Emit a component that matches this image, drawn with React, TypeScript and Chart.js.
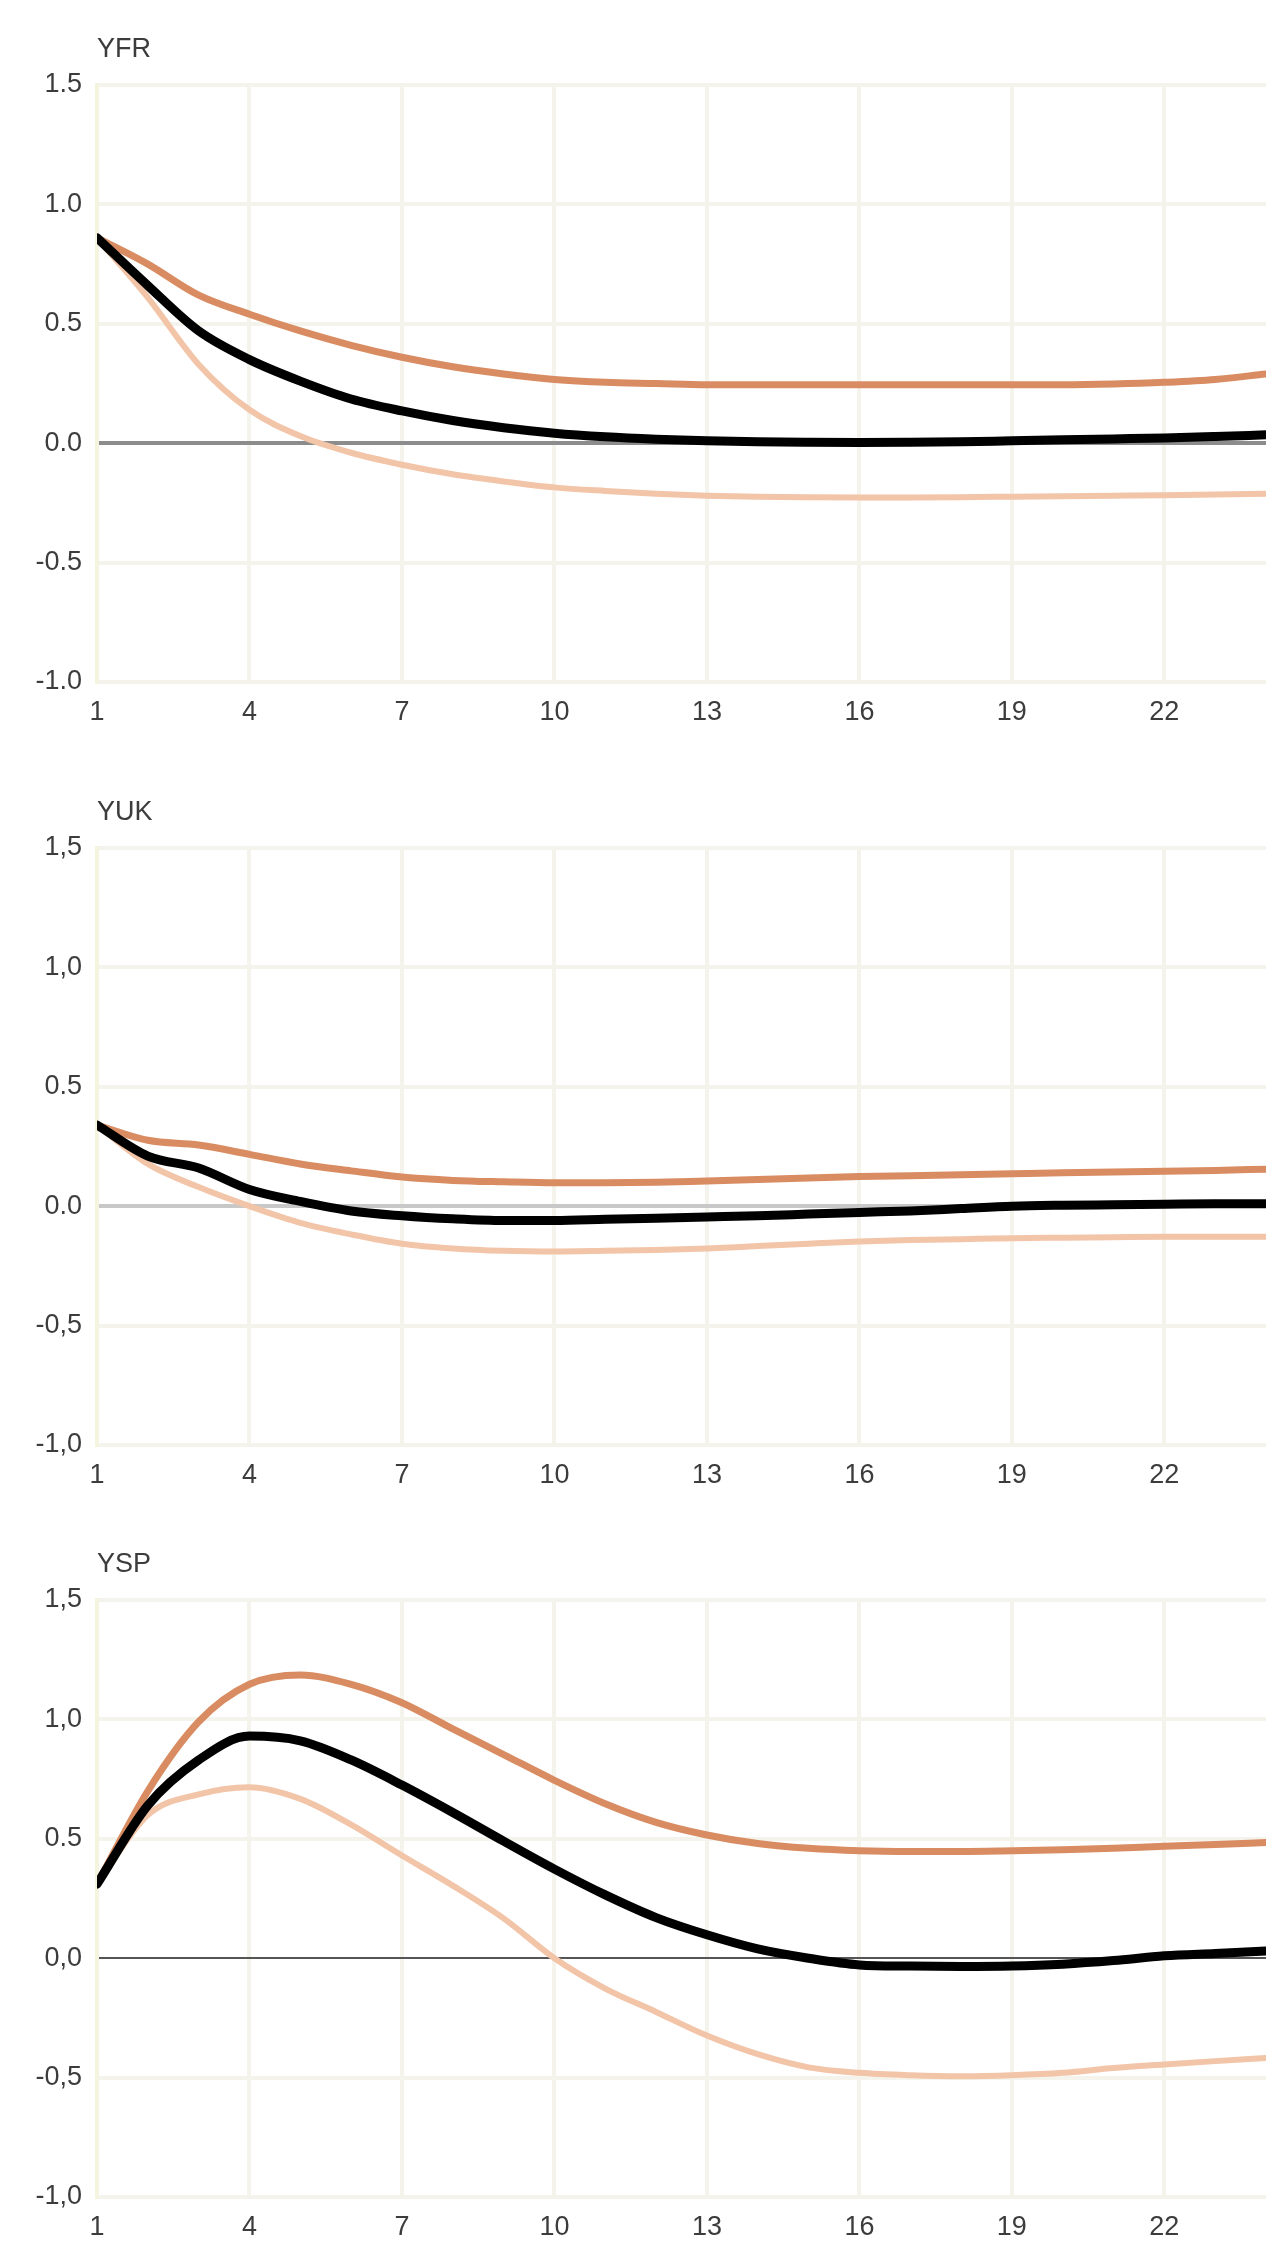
import { useEffect, useRef } from "react";
import { Chart, registerables } from "chart.js";

Chart.register(...registerables);

// horizon (periods after the shock)
const periods = [1, 2, 3, 4, 5, 6, 7, 8, 9, 10, 11, 12, 13, 14, 15, 16, 17, 18, 19, 20, 21, 22, 23, 24];
const xTickValues = [1, 4, 7, 10, 13, 16, 19, 22];
const yTickValues = [1.5, 1.0, 0.5, 0.0, -0.5, -1.0];

// tick labels as printed in each panel
const yfrTickLabels = ["1.5", "1.0", "0.5", "0.0", "-0.5", "-1.0"];
const yukTickLabels = ["1,5", "1,0", "0.5", "0.0", "-0,5", "-1,0"];
const yspTickLabels = ["1,5", "1,0", "0.5", "0,0", "-0,5", "-1,0"];

// YFR
const yfrCentral = [0.86, 0.66, 0.47, 0.35, 0.26, 0.185, 0.135, 0.095, 0.065, 0.042, 0.027, 0.017, 0.01, 0.006, 0.004, 0.003, 0.004, 0.006, 0.01, 0.014, 0.018, 0.022, 0.028, 0.035];
const yfrUpper = [0.86, 0.75, 0.62, 0.54, 0.47, 0.41, 0.36, 0.32, 0.29, 0.267, 0.255, 0.25, 0.245, 0.245, 0.245, 0.245, 0.245, 0.245, 0.245, 0.245, 0.248, 0.255, 0.267, 0.29];
const yfrLower = [0.86, 0.61, 0.33, 0.14, 0.03, -0.04, -0.09, -0.13, -0.16, -0.185, -0.2, -0.212, -0.22, -0.224, -0.226, -0.227, -0.227, -0.226, -0.224, -0.222, -0.22, -0.218, -0.215, -0.212];

// YUK
const yukCentral = [0.34, 0.21, 0.16, 0.07, 0.02, -0.02, -0.04, -0.053, -0.06, -0.06, -0.055, -0.05, -0.045, -0.04, -0.033, -0.026, -0.02, -0.01, 0.0, 0.004, 0.006, 0.008, 0.01, 0.01];
const yukUpper = [0.34, 0.276, 0.256, 0.217, 0.177, 0.148, 0.122, 0.108, 0.102, 0.098, 0.098, 0.1, 0.106, 0.112, 0.118, 0.124, 0.128, 0.132, 0.136, 0.14, 0.143, 0.146, 0.15, 0.155];
const yukLower = [0.34, 0.177, 0.08, 0.0, -0.07, -0.118, -0.157, -0.177, -0.187, -0.19, -0.187, -0.183, -0.177, -0.167, -0.157, -0.148, -0.142, -0.138, -0.134, -0.132, -0.13, -0.128, -0.128, -0.128];

// YSP
const yspCentral = [0.31, 0.64, 0.83, 0.93, 0.91, 0.83, 0.725, 0.61, 0.49, 0.373, 0.265, 0.17, 0.098, 0.039, 0.0, -0.028, -0.033, -0.035, -0.033, -0.025, -0.01, 0.01, 0.02, 0.03];
const yspUpper = [0.31, 0.7, 0.99, 1.147, 1.186, 1.147, 1.07, 0.96, 0.853, 0.745, 0.647, 0.569, 0.516, 0.48, 0.46, 0.45, 0.447, 0.447, 0.45, 0.454, 0.46, 0.469, 0.476, 0.484];
const yspLower = [0.31, 0.6, 0.686, 0.716, 0.667, 0.559, 0.43, 0.304, 0.167, 0.0, -0.127, -0.225, -0.324, -0.402, -0.457, -0.48, -0.49, -0.494, -0.49, -0.48, -0.46, -0.445, -0.431, -0.418];

const FONT = "'Liberation Sans', Arial, sans-serif";
const TEXT = "#3c3c3c";
const GRID = "#f4f4ed";

interface PanelProps {
  title: string;
  top: number;
  central: number[];
  upper: number[];
  lower: number[];
  tickLabels: string[];
  zeroColor: string;
  zeroWidth: number;
}

const points = (values: number[]) => values.map((y, i) => ({ x: periods[i], y }));

function Panel({ title, top, central, upper, lower, tickLabels, zeroColor, zeroWidth }: PanelProps) {
  const canvasRef = useRef<HTMLCanvasElement>(null);

  useEffect(() => {
    if (!canvasRef.current) return;
    const chart = new Chart(canvasRef.current, {
      type: "line",
      data: {
        datasets: [
          { data: points(central), borderColor: "#000000", borderWidth: 9 },
          { data: points(upper), borderColor: "#d98c62", borderWidth: 7 },
          { data: points(lower), borderColor: "#f2c4a8", borderWidth: 6 },
        ],
      },
      options: {
        animation: false,
        responsive: true,
        maintainAspectRatio: false,
        layout: { padding: { top: 70, right: 0, bottom: 0, left: 0 } },
        elements: {
          point: { radius: 0 },
          line: { cubicInterpolationMode: "monotone", borderCapStyle: "round", borderJoinStyle: "round" },
        },
        plugins: { legend: { display: false }, tooltip: { enabled: false } },
        scales: {
          x: {
            type: "linear",
            min: 1,
            max: 24,
            afterBuildTicks: (scale: any) => {
              scale.ticks = xTickValues.map((value) => ({ value }));
            },
            afterFit: (scale: any) => {
              scale.height = 50;
            },
            grid: { color: GRID, lineWidth: 4, drawTicks: false },
            border: { display: false },
            ticks: {
              autoSkip: false,
              maxRotation: 0,
              padding: 14,
              color: TEXT,
              font: { family: FONT, size: 27 },
              callback: (v: any) => String(v),
            },
          },
          y: {
            min: -1,
            max: 1.5,
            afterBuildTicks: (scale: any) => {
              scale.ticks = yTickValues.map((value) => ({ value }));
            },
            afterFit: (scale: any) => {
              scale.width = 97;
            },
            grid: {
              drawTicks: false,
              color: (ctx: any) => (ctx.tick && ctx.tick.value === 0 ? zeroColor : GRID),
              lineWidth: (ctx: any) => (ctx.tick && ctx.tick.value === 0 ? zeroWidth : 4),
            },
            border: { display: true, color: "#f4f4df", width: 4 },
            ticks: {
              padding: 15,
              color: TEXT,
              font: { family: FONT, size: 27 },
              callback: (_v: any, i: number) => tickLabels[i],
            },
          },
        },
      },
    });
    return () => chart.destroy();
  }, [central, upper, lower, tickLabels, zeroColor, zeroWidth]);

  return (
    <div style={{ position: "absolute", left: 0, top, width: 1266, height: 717 }}>
      <div
        style={{
          position: "absolute",
          left: 97,
          top: 17,
          font: `27px ${FONT}`,
          lineHeight: "32px",
          color: TEXT,
        }}
      >
        {title}
      </div>
      <canvas ref={canvasRef} />
    </div>
  );
}

export default function App() {
  useEffect(() => {
    document.body.style.margin = "0";
    document.body.style.background = "#ffffff";
  }, []);

  return (
    <div style={{ position: "relative", width: 1266, height: 2247, background: "#ffffff", overflow: "hidden" }}>
      <Panel title="YFR" top={15} central={yfrCentral} upper={yfrUpper} lower={yfrLower} tickLabels={yfrTickLabels} zeroColor="#8c8c8c" zeroWidth={4} />
      <Panel title="YUK" top={778} central={yukCentral} upper={yukUpper} lower={yukLower} tickLabels={yukTickLabels} zeroColor="#c8c8c8" zeroWidth={4} />
      <Panel title="YSP" top={1530} central={yspCentral} upper={yspUpper} lower={yspLower} tickLabels={yspTickLabels} zeroColor="#555555" zeroWidth={2} />
    </div>
  );
}
